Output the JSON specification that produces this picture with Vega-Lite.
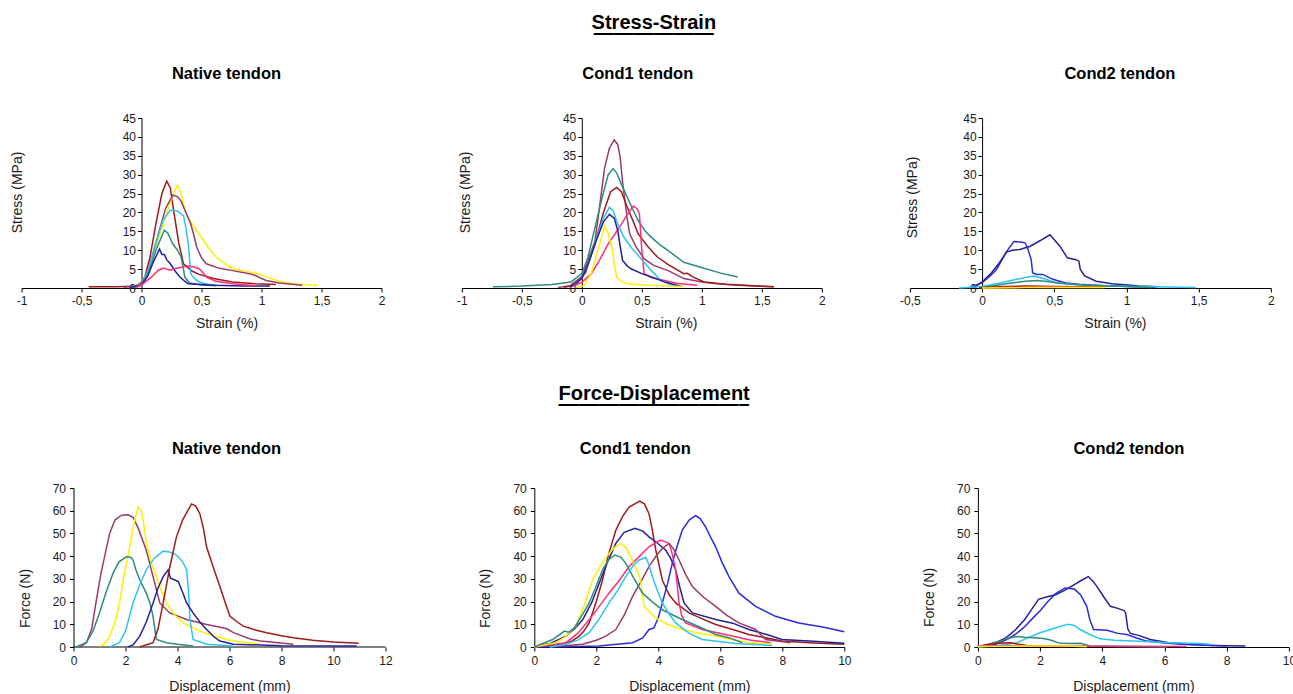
{
"$schema":"https://vega.github.io/schema/vega-lite/v6.json",
"padding":{"left":10.5,"top":12,"right":0,"bottom":0},
"background":"white",
"columns":1,
"spacing":54,
"config":{
"view":{"stroke":null},
"font":"Liberation Sans",
"title":{"font":"Liberation Sans","fontSize":16.5,"fontWeight":"bold","color":"#000","anchor":"middle"},
"axis":{"grid":false,"domainColor":"#000","tickColor":"#000","labelColor":"#1a1a1a","titleColor":"#1a1a1a","labelFont":"Liberation Sans","titleFont":"Liberation Sans","labelFontSize":12,"titleFontSize":14,"titleFontWeight":"normal","tickSize":4,"domainWidth":1,"tickWidth":1,"labelOverlap":false,"labelFlush":false},
"line":{"strokeWidth":1.5,"clip":true}
},
"datasets":{"d":[
{"g":"SN","k":"R","x":-0.44,"y":0.3},{"g":"SN","k":"R","x":-0.2,"y":0.35},{"g":"SN","k":"R","x":-0.05,"y":0.5},{"g":"SN","k":"R","x":0,"y":1.5},{"g":"SN","k":"R","x":0.02,"y":2},{"g":"SN","k":"R","x":0.07,"y":8},{"g":"SN","k":"R","x":0.12,"y":17},{"g":"SN","k":"R","x":0.17,"y":25},{"g":"SN","k":"R","x":0.21,"y":28.3},{"g":"SN","k":"R","x":0.24,"y":26.5},{"g":"SN","k":"R","x":0.27,"y":20},{"g":"SN","k":"R","x":0.31,"y":12},{"g":"SN","k":"R","x":0.35,"y":6.4},{"g":"SN","k":"R","x":0.42,"y":4.5},{"g":"SN","k":"R","x":0.48,"y":3.6},{"g":"SN","k":"R","x":0.6,"y":2.5},{"g":"SN","k":"R","x":0.76,"y":1.6},{"g":"SN","k":"R","x":0.95,"y":1.1},{"g":"SN","k":"R","x":1.12,"y":0.9},
{"g":"SN","k":"Y","x":-0.1,"y":0.2},{"g":"SN","k":"Y","x":-0.02,"y":0.8},{"g":"SN","k":"Y","x":0.05,"y":4},{"g":"SN","k":"Y","x":0.12,"y":11},{"g":"SN","k":"Y","x":0.2,"y":19},{"g":"SN","k":"Y","x":0.26,"y":24.5},{"g":"SN","k":"Y","x":0.3,"y":27.2},{"g":"SN","k":"Y","x":0.33,"y":25},{"g":"SN","k":"Y","x":0.37,"y":19.6},{"g":"SN","k":"Y","x":0.42,"y":17},{"g":"SN","k":"Y","x":0.48,"y":14.3},{"g":"SN","k":"Y","x":0.55,"y":11},{"g":"SN","k":"Y","x":0.62,"y":8.2},{"g":"SN","k":"Y","x":0.7,"y":6.3},{"g":"SN","k":"Y","x":0.76,"y":5.1},{"g":"SN","k":"Y","x":0.9,"y":4.2},{"g":"SN","k":"Y","x":0.98,"y":3.8},{"g":"SN","k":"Y","x":1.05,"y":2.8},{"g":"SN","k":"Y","x":1.17,"y":1.6},{"g":"SN","k":"Y","x":1.3,"y":1},{"g":"SN","k":"Y","x":1.47,"y":0.7},
{"g":"SN","k":"M","x":-0.15,"y":0.2},{"g":"SN","k":"M","x":-0.02,"y":0.6},{"g":"SN","k":"M","x":0.05,"y":4},{"g":"SN","k":"M","x":0.12,"y":12},{"g":"SN","k":"M","x":0.2,"y":21},{"g":"SN","k":"M","x":0.26,"y":24.6},{"g":"SN","k":"M","x":0.3,"y":24.2},{"g":"SN","k":"M","x":0.33,"y":23},{"g":"SN","k":"M","x":0.37,"y":20},{"g":"SN","k":"M","x":0.41,"y":17},{"g":"SN","k":"M","x":0.44,"y":13.5},{"g":"SN","k":"M","x":0.46,"y":10.8},{"g":"SN","k":"M","x":0.5,"y":8},{"g":"SN","k":"M","x":0.54,"y":6.4},{"g":"SN","k":"M","x":0.65,"y":5.2},{"g":"SN","k":"M","x":0.76,"y":4.6},{"g":"SN","k":"M","x":0.9,"y":3.8},{"g":"SN","k":"M","x":0.95,"y":3.3},{"g":"SN","k":"M","x":1,"y":2.5},{"g":"SN","k":"M","x":1.04,"y":2},{"g":"SN","k":"M","x":1.15,"y":1.3},{"g":"SN","k":"M","x":1.34,"y":0.7},
{"g":"SN","k":"C","x":-0.1,"y":0.1},{"g":"SN","k":"C","x":0,"y":1},{"g":"SN","k":"C","x":0.06,"y":5},{"g":"SN","k":"C","x":0.12,"y":12},{"g":"SN","k":"C","x":0.18,"y":18},{"g":"SN","k":"C","x":0.24,"y":20.6},{"g":"SN","k":"C","x":0.3,"y":20.4},{"g":"SN","k":"C","x":0.35,"y":19.1},{"g":"SN","k":"C","x":0.37,"y":16},{"g":"SN","k":"C","x":0.39,"y":11.7},{"g":"SN","k":"C","x":0.41,"y":3.8},{"g":"SN","k":"C","x":0.44,"y":2.5},{"g":"SN","k":"C","x":0.48,"y":1.6},{"g":"SN","k":"C","x":0.55,"y":1},{"g":"SN","k":"C","x":0.63,"y":0.7},
{"g":"SN","k":"T","x":-0.1,"y":0.1},{"g":"SN","k":"T","x":0,"y":0.8},{"g":"SN","k":"T","x":0.06,"y":4},{"g":"SN","k":"T","x":0.12,"y":10},{"g":"SN","k":"T","x":0.19,"y":15.3},{"g":"SN","k":"T","x":0.22,"y":14.5},{"g":"SN","k":"T","x":0.26,"y":11.7},{"g":"SN","k":"T","x":0.3,"y":10},{"g":"SN","k":"T","x":0.33,"y":8.2},{"g":"SN","k":"T","x":0.35,"y":5},{"g":"SN","k":"T","x":0.36,"y":2.9},{"g":"SN","k":"T","x":0.4,"y":1.3},{"g":"SN","k":"T","x":0.5,"y":0.8},{"g":"SN","k":"T","x":0.62,"y":0.6},
{"g":"SN","k":"B","x":-0.1,"y":0.1},{"g":"SN","k":"B","x":0,"y":0.8},{"g":"SN","k":"B","x":0.05,"y":3},{"g":"SN","k":"B","x":0.1,"y":7},{"g":"SN","k":"B","x":0.15,"y":10.3},{"g":"SN","k":"B","x":0.17,"y":8.9},{"g":"SN","k":"B","x":0.19,"y":8.9},{"g":"SN","k":"B","x":0.21,"y":7.5},{"g":"SN","k":"B","x":0.24,"y":6.4},{"g":"SN","k":"B","x":0.28,"y":4.5},{"g":"SN","k":"B","x":0.32,"y":2.9},{"g":"SN","k":"B","x":0.36,"y":1.8},{"g":"SN","k":"B","x":0.39,"y":1.1},{"g":"SN","k":"B","x":0.6,"y":0.7},{"g":"SN","k":"B","x":0.85,"y":0.5},{"g":"SN","k":"B","x":1.07,"y":0.5},
{"g":"SN","k":"P","x":-0.05,"y":0.1},{"g":"SN","k":"P","x":0,"y":0.8},{"g":"SN","k":"P","x":0.08,"y":2.8},{"g":"SN","k":"P","x":0.14,"y":4.7},{"g":"SN","k":"P","x":0.18,"y":5.3},{"g":"SN","k":"P","x":0.21,"y":5},{"g":"SN","k":"P","x":0.24,"y":4.7},{"g":"SN","k":"P","x":0.3,"y":5.3},{"g":"SN","k":"P","x":0.38,"y":5.8},{"g":"SN","k":"P","x":0.43,"y":5.6},{"g":"SN","k":"P","x":0.48,"y":5.1},{"g":"SN","k":"P","x":0.52,"y":3.8},{"g":"SN","k":"P","x":0.54,"y":2.9},{"g":"SN","k":"P","x":0.62,"y":1.8},{"g":"SN","k":"P","x":0.76,"y":1.1},{"g":"SN","k":"P","x":0.95,"y":0.6},

{"g":"S1","k":"M","x":-0.2,"y":0.1},{"g":"S1","k":"M","x":-0.1,"y":0.6},{"g":"S1","k":"M","x":0,"y":3},{"g":"S1","k":"M","x":0.05,"y":7},{"g":"S1","k":"M","x":0.11,"y":12.5},{"g":"S1","k":"M","x":0.15,"y":22},{"g":"S1","k":"M","x":0.19,"y":31.8},{"g":"S1","k":"M","x":0.23,"y":37},{"g":"S1","k":"M","x":0.27,"y":39.2},{"g":"S1","k":"M","x":0.3,"y":38},{"g":"S1","k":"M","x":0.32,"y":34.5},{"g":"S1","k":"M","x":0.34,"y":28},{"g":"S1","k":"M","x":0.36,"y":23},{"g":"S1","k":"M","x":0.38,"y":18},{"g":"S1","k":"M","x":0.4,"y":14.3},{"g":"S1","k":"M","x":0.45,"y":11},{"g":"S1","k":"M","x":0.52,"y":7.7},{"g":"S1","k":"M","x":0.6,"y":6},{"g":"S1","k":"M","x":0.72,"y":4.6},{"g":"S1","k":"M","x":0.85,"y":2.5},{"g":"S1","k":"M","x":1,"y":1.6},{"g":"S1","k":"M","x":1.13,"y":1.1},{"g":"S1","k":"M","x":1.3,"y":0.7},{"g":"S1","k":"M","x":1.6,"y":0.3},
{"g":"S1","k":"T","x":-0.74,"y":0.3},{"g":"S1","k":"T","x":-0.5,"y":0.5},{"g":"S1","k":"T","x":-0.25,"y":0.9},{"g":"S1","k":"T","x":-0.09,"y":1.6},{"g":"S1","k":"T","x":0,"y":3.8},{"g":"S1","k":"T","x":0.05,"y":8},{"g":"S1","k":"T","x":0.11,"y":16},{"g":"S1","k":"T","x":0.17,"y":24},{"g":"S1","k":"T","x":0.22,"y":30},{"g":"S1","k":"T","x":0.26,"y":31.6},{"g":"S1","k":"T","x":0.29,"y":30.5},{"g":"S1","k":"T","x":0.33,"y":27.5},{"g":"S1","k":"T","x":0.4,"y":22.5},{"g":"S1","k":"T","x":0.47,"y":17.8},{"g":"S1","k":"T","x":0.53,"y":15},{"g":"S1","k":"T","x":0.58,"y":13.4},{"g":"S1","k":"T","x":0.65,"y":11.5},{"g":"S1","k":"T","x":0.72,"y":9.9},{"g":"S1","k":"T","x":0.85,"y":6.8},{"g":"S1","k":"T","x":0.99,"y":5.5},{"g":"S1","k":"T","x":1.15,"y":4},{"g":"S1","k":"T","x":1.3,"y":2.9},
{"g":"S1","k":"R","x":-0.15,"y":0.2},{"g":"S1","k":"R","x":-0.05,"y":0.8},{"g":"S1","k":"R","x":0.03,"y":4},{"g":"S1","k":"R","x":0.11,"y":11.7},{"g":"S1","k":"R","x":0.18,"y":20},{"g":"S1","k":"R","x":0.24,"y":25.5},{"g":"S1","k":"R","x":0.29,"y":26.6},{"g":"S1","k":"R","x":0.33,"y":25.5},{"g":"S1","k":"R","x":0.38,"y":21.3},{"g":"S1","k":"R","x":0.43,"y":17.5},{"g":"S1","k":"R","x":0.47,"y":14.3},{"g":"S1","k":"R","x":0.55,"y":11},{"g":"S1","k":"R","x":0.63,"y":8.2},{"g":"S1","k":"R","x":0.72,"y":6.2},{"g":"S1","k":"R","x":0.85,"y":3.8},{"g":"S1","k":"R","x":0.88,"y":3.9},{"g":"S1","k":"R","x":0.92,"y":3},{"g":"S1","k":"R","x":1.02,"y":1.6},{"g":"S1","k":"R","x":1.2,"y":1},{"g":"S1","k":"R","x":1.6,"y":0.3},
{"g":"S1","k":"P","x":-0.1,"y":0.2},{"g":"S1","k":"P","x":0,"y":1.5},{"g":"S1","k":"P","x":0.08,"y":3.8},{"g":"S1","k":"P","x":0.15,"y":7.5},{"g":"S1","k":"P","x":0.22,"y":11.7},{"g":"S1","k":"P","x":0.28,"y":14.5},{"g":"S1","k":"P","x":0.33,"y":16.9},{"g":"S1","k":"P","x":0.38,"y":19.5},{"g":"S1","k":"P","x":0.43,"y":21.7},{"g":"S1","k":"P","x":0.46,"y":21},{"g":"S1","k":"P","x":0.48,"y":19.6},{"g":"S1","k":"P","x":0.49,"y":15},{"g":"S1","k":"P","x":0.5,"y":9.9},{"g":"S1","k":"P","x":0.52,"y":3.8},{"g":"S1","k":"P","x":0.58,"y":2.8},{"g":"S1","k":"P","x":0.69,"y":2},{"g":"S1","k":"P","x":0.8,"y":1.2},{"g":"S1","k":"P","x":0.96,"y":0.7},
{"g":"S1","k":"C","x":-0.1,"y":0.2},{"g":"S1","k":"C","x":0,"y":2.5},{"g":"S1","k":"C","x":0.06,"y":7},{"g":"S1","k":"C","x":0.12,"y":13},{"g":"S1","k":"C","x":0.18,"y":18.5},{"g":"S1","k":"C","x":0.23,"y":21.4},{"g":"S1","k":"C","x":0.26,"y":20.5},{"g":"S1","k":"C","x":0.3,"y":16.9},{"g":"S1","k":"C","x":0.35,"y":13.5},{"g":"S1","k":"C","x":0.41,"y":10.8},{"g":"S1","k":"C","x":0.5,"y":7.5},{"g":"S1","k":"C","x":0.58,"y":4.6},{"g":"S1","k":"C","x":0.66,"y":2},{"g":"S1","k":"C","x":0.75,"y":0.8},{"g":"S1","k":"C","x":0.83,"y":0.4},
{"g":"S1","k":"B","x":-0.1,"y":0.2},{"g":"S1","k":"B","x":0,"y":2.5},{"g":"S1","k":"B","x":0.06,"y":7},{"g":"S1","k":"B","x":0.12,"y":12.5},{"g":"S1","k":"B","x":0.18,"y":17.5},{"g":"S1","k":"B","x":0.23,"y":19.5},{"g":"S1","k":"B","x":0.27,"y":18.5},{"g":"S1","k":"B","x":0.3,"y":15.2},{"g":"S1","k":"B","x":0.32,"y":11},{"g":"S1","k":"B","x":0.34,"y":7.3},{"g":"S1","k":"B","x":0.38,"y":5.8},{"g":"S1","k":"B","x":0.41,"y":5.1},{"g":"S1","k":"B","x":0.5,"y":3.8},{"g":"S1","k":"B","x":0.58,"y":2.9},{"g":"S1","k":"B","x":0.7,"y":1.5},{"g":"S1","k":"B","x":0.83,"y":0.4},
{"g":"S1","k":"Y","x":-0.05,"y":0.1},{"g":"S1","k":"Y","x":0.02,"y":0.7},{"g":"S1","k":"Y","x":0.08,"y":4},{"g":"S1","k":"Y","x":0.13,"y":9.5},{"g":"S1","k":"Y","x":0.19,"y":16.4},{"g":"S1","k":"Y","x":0.22,"y":14.5},{"g":"S1","k":"Y","x":0.25,"y":10.8},{"g":"S1","k":"Y","x":0.27,"y":6.5},{"g":"S1","k":"Y","x":0.29,"y":2.9},{"g":"S1","k":"Y","x":0.33,"y":1.8},{"g":"S1","k":"Y","x":0.38,"y":1.1},{"g":"S1","k":"Y","x":0.55,"y":0.7},{"g":"S1","k":"Y","x":0.85,"y":0.4},

{"g":"S2","k":"L","x":-0.09,"y":0},{"g":"S2","k":"L","x":0,"y":1.4},{"g":"S2","k":"L","x":0.05,"y":3},{"g":"S2","k":"L","x":0.1,"y":4.9},{"g":"S2","k":"L","x":0.17,"y":9.7},{"g":"S2","k":"L","x":0.22,"y":12.3},{"g":"S2","k":"L","x":0.27,"y":12.2},{"g":"S2","k":"L","x":0.3,"y":11.9},{"g":"S2","k":"L","x":0.32,"y":10},{"g":"S2","k":"L","x":0.34,"y":7.5},{"g":"S2","k":"L","x":0.35,"y":4},{"g":"S2","k":"L","x":0.38,"y":3.6},{"g":"S2","k":"L","x":0.42,"y":3.6},{"g":"S2","k":"L","x":0.49,"y":2.3},{"g":"S2","k":"L","x":0.58,"y":1.3},{"g":"S2","k":"L","x":0.67,"y":1},{"g":"S2","k":"L","x":0.85,"y":0.6},{"g":"S2","k":"L","x":1.02,"y":0.4},{"g":"S2","k":"L","x":1.2,"y":0.2},
{"g":"S2","k":"B","x":-0.06,"y":0},{"g":"S2","k":"B","x":0,"y":1.6},{"g":"S2","k":"B","x":0.06,"y":3.8},{"g":"S2","k":"B","x":0.12,"y":6.7},{"g":"S2","k":"B","x":0.17,"y":9.5},{"g":"S2","k":"B","x":0.21,"y":10},{"g":"S2","k":"B","x":0.26,"y":10.2},{"g":"S2","k":"B","x":0.33,"y":11},{"g":"S2","k":"B","x":0.4,"y":12.5},{"g":"S2","k":"B","x":0.47,"y":14.1},{"g":"S2","k":"B","x":0.5,"y":12.8},{"g":"S2","k":"B","x":0.54,"y":11},{"g":"S2","k":"B","x":0.59,"y":8},{"g":"S2","k":"B","x":0.65,"y":7.5},{"g":"S2","k":"B","x":0.67,"y":7.1},{"g":"S2","k":"B","x":0.68,"y":4.9},{"g":"S2","k":"B","x":0.71,"y":3.2},{"g":"S2","k":"B","x":0.79,"y":1.8},{"g":"S2","k":"B","x":0.9,"y":1.1},{"g":"S2","k":"B","x":1.09,"y":0.5},{"g":"S2","k":"B","x":1.22,"y":0.3},
{"g":"S2","k":"C","x":-0.16,"y":0},{"g":"S2","k":"C","x":0,"y":0.4},{"g":"S2","k":"C","x":0.1,"y":1.1},{"g":"S2","k":"C","x":0.2,"y":2},{"g":"S2","k":"C","x":0.3,"y":2.8},{"g":"S2","k":"C","x":0.36,"y":3.2},{"g":"S2","k":"C","x":0.42,"y":2.6},{"g":"S2","k":"C","x":0.51,"y":1.4},{"g":"S2","k":"C","x":0.7,"y":0.7},{"g":"S2","k":"C","x":0.9,"y":0.5},{"g":"S2","k":"C","x":1.2,"y":0.3},{"g":"S2","k":"C","x":1.48,"y":0.1},
{"g":"S2","k":"T","x":-0.02,"y":0.1},{"g":"S2","k":"T","x":0.1,"y":0.7},{"g":"S2","k":"T","x":0.2,"y":1.3},{"g":"S2","k":"T","x":0.3,"y":1.8},{"g":"S2","k":"T","x":0.38,"y":2},{"g":"S2","k":"T","x":0.45,"y":1.7},{"g":"S2","k":"T","x":0.56,"y":1.2},{"g":"S2","k":"T","x":0.7,"y":0.8},{"g":"S2","k":"T","x":0.9,"y":0.5},{"g":"S2","k":"T","x":1.18,"y":0.1},
{"g":"S2","k":"R","x":-0.02,"y":0},{"g":"S2","k":"R","x":0.1,"y":0.3},{"g":"S2","k":"R","x":0.3,"y":0.5},{"g":"S2","k":"R","x":0.5,"y":0.4},{"g":"S2","k":"R","x":0.7,"y":0.3},{"g":"S2","k":"R","x":0.85,"y":0.2},
{"g":"S2","k":"P","x":0,"y":0},{"g":"S2","k":"P","x":0.2,"y":0.2},{"g":"S2","k":"P","x":0.5,"y":0.3},{"g":"S2","k":"P","x":0.8,"y":0.2},
{"g":"S2","k":"Y","x":0,"y":0},{"g":"S2","k":"Y","x":0.3,"y":0.1},{"g":"S2","k":"Y","x":0.6,"y":0.1},{"g":"S2","k":"Y","x":0.85,"y":0.1},

{"g":"FN","k":"M","x":0.23,"y":0},{"g":"FN","k":"M","x":0.3,"y":0.3},{"g":"FN","k":"M","x":0.5,"y":2},{"g":"FN","k":"M","x":0.7,"y":8},{"g":"FN","k":"M","x":0.87,"y":20},{"g":"FN","k":"M","x":1.05,"y":32},{"g":"FN","k":"M","x":1.2,"y":40},{"g":"FN","k":"M","x":1.39,"y":50},{"g":"FN","k":"M","x":1.6,"y":56},{"g":"FN","k":"M","x":1.85,"y":58},{"g":"FN","k":"M","x":2.1,"y":58.2},{"g":"FN","k":"M","x":2.3,"y":57},{"g":"FN","k":"M","x":2.5,"y":52},{"g":"FN","k":"M","x":2.8,"y":42.6},{"g":"FN","k":"M","x":3.06,"y":31},{"g":"FN","k":"M","x":3.32,"y":19.4},{"g":"FN","k":"M","x":3.7,"y":15},{"g":"FN","k":"M","x":4.35,"y":12.1},{"g":"FN","k":"M","x":5.12,"y":9.9},{"g":"FN","k":"M","x":5.6,"y":8.8},{"g":"FN","k":"M","x":5.9,"y":8},{"g":"FN","k":"M","x":6.15,"y":6.3},{"g":"FN","k":"M","x":6.8,"y":3.5},{"g":"FN","k":"M","x":7.2,"y":2.6},{"g":"FN","k":"M","x":8.46,"y":1.2},
{"g":"FN","k":"Y","x":1,"y":0.3},{"g":"FN","k":"Y","x":1.2,"y":1.5},{"g":"FN","k":"Y","x":1.39,"y":4.8},{"g":"FN","k":"Y","x":1.6,"y":11},{"g":"FN","k":"Y","x":1.77,"y":19.4},{"g":"FN","k":"Y","x":1.95,"y":32},{"g":"FN","k":"Y","x":2.16,"y":44},{"g":"FN","k":"Y","x":2.3,"y":53},{"g":"FN","k":"Y","x":2.48,"y":61.6},{"g":"FN","k":"Y","x":2.6,"y":60},{"g":"FN","k":"Y","x":2.68,"y":55.7},{"g":"FN","k":"Y","x":2.8,"y":45.6},{"g":"FN","k":"Y","x":3,"y":37},{"g":"FN","k":"Y","x":3.19,"y":31},{"g":"FN","k":"Y","x":3.4,"y":24},{"g":"FN","k":"Y","x":3.58,"y":19.4},{"g":"FN","k":"Y","x":3.9,"y":14},{"g":"FN","k":"Y","x":4.22,"y":10.6},{"g":"FN","k":"Y","x":4.86,"y":7},{"g":"FN","k":"Y","x":5.5,"y":4.5},{"g":"FN","k":"Y","x":6.15,"y":2.6},{"g":"FN","k":"Y","x":7.18,"y":1.2},
{"g":"FN","k":"T","x":0.1,"y":0},{"g":"FN","k":"T","x":0.49,"y":1.9},{"g":"FN","k":"T","x":0.75,"y":7},{"g":"FN","k":"T","x":1,"y":15},{"g":"FN","k":"T","x":1.25,"y":24},{"g":"FN","k":"T","x":1.52,"y":32.5},{"g":"FN","k":"T","x":1.75,"y":37.5},{"g":"FN","k":"T","x":2.03,"y":39.7},{"g":"FN","k":"T","x":2.2,"y":39.5},{"g":"FN","k":"T","x":2.29,"y":38.3},{"g":"FN","k":"T","x":2.4,"y":34},{"g":"FN","k":"T","x":2.55,"y":29.5},{"g":"FN","k":"T","x":2.8,"y":23.7},{"g":"FN","k":"T","x":2.95,"y":19},{"g":"FN","k":"T","x":3.06,"y":13.5},{"g":"FN","k":"T","x":3.15,"y":6},{"g":"FN","k":"T","x":3.19,"y":3.3},{"g":"FN","k":"T","x":3.58,"y":1.9},{"g":"FN","k":"T","x":4,"y":1.2},{"g":"FN","k":"T","x":4.6,"y":0.4},
{"g":"FN","k":"C","x":1.39,"y":0},{"g":"FN","k":"C","x":1.77,"y":1.9},{"g":"FN","k":"C","x":2,"y":7},{"g":"FN","k":"C","x":2.29,"y":19.4},{"g":"FN","k":"C","x":2.55,"y":27.5},{"g":"FN","k":"C","x":2.8,"y":34},{"g":"FN","k":"C","x":3.1,"y":39},{"g":"FN","k":"C","x":3.45,"y":42.2},{"g":"FN","k":"C","x":3.7,"y":41.8},{"g":"FN","k":"C","x":3.96,"y":40.5},{"g":"FN","k":"C","x":4.2,"y":37.5},{"g":"FN","k":"C","x":4.35,"y":34},{"g":"FN","k":"C","x":4.42,"y":25},{"g":"FN","k":"C","x":4.48,"y":12},{"g":"FN","k":"C","x":4.6,"y":3.3},{"g":"FN","k":"C","x":5.12,"y":1.2},{"g":"FN","k":"C","x":6.15,"y":0.4},
{"g":"FN","k":"B","x":2.1,"y":0},{"g":"FN","k":"B","x":2.3,"y":1},{"g":"FN","k":"B","x":2.55,"y":4.8},{"g":"FN","k":"B","x":2.8,"y":11},{"g":"FN","k":"B","x":3.06,"y":19.4},{"g":"FN","k":"B","x":3.25,"y":26},{"g":"FN","k":"B","x":3.45,"y":31},{"g":"FN","k":"B","x":3.64,"y":33.9},{"g":"FN","k":"B","x":3.73,"y":30.3},{"g":"FN","k":"B","x":3.9,"y":29.5},{"g":"FN","k":"B","x":4.03,"y":28.8},{"g":"FN","k":"B","x":4.2,"y":24},{"g":"FN","k":"B","x":4.35,"y":19.4},{"g":"FN","k":"B","x":4.6,"y":15},{"g":"FN","k":"B","x":4.86,"y":11},{"g":"FN","k":"B","x":5.12,"y":7.7},{"g":"FN","k":"B","x":5.4,"y":4.5},{"g":"FN","k":"B","x":5.63,"y":2.6},{"g":"FN","k":"B","x":6.15,"y":1.2},{"g":"FN","k":"B","x":8,"y":0.6},{"g":"FN","k":"B","x":10.9,"y":0.4},
{"g":"FN","k":"R","x":2.55,"y":0},{"g":"FN","k":"R","x":3.06,"y":1.9},{"g":"FN","k":"R","x":3.25,"y":8},{"g":"FN","k":"R","x":3.45,"y":19.4},{"g":"FN","k":"R","x":3.7,"y":35},{"g":"FN","k":"R","x":3.96,"y":48.5},{"g":"FN","k":"R","x":4.2,"y":56},{"g":"FN","k":"R","x":4.54,"y":63},{"g":"FN","k":"R","x":4.7,"y":62},{"g":"FN","k":"R","x":4.86,"y":58.7},{"g":"FN","k":"R","x":5,"y":52},{"g":"FN","k":"R","x":5.12,"y":44},{"g":"FN","k":"R","x":5.35,"y":36},{"g":"FN","k":"R","x":5.63,"y":26.6},{"g":"FN","k":"R","x":5.85,"y":19},{"g":"FN","k":"R","x":6.02,"y":13.5},{"g":"FN","k":"R","x":6.3,"y":11},{"g":"FN","k":"R","x":6.53,"y":9.2},{"g":"FN","k":"R","x":7,"y":7.5},{"g":"FN","k":"R","x":7.43,"y":6.3},{"g":"FN","k":"R","x":8,"y":5},{"g":"FN","k":"R","x":8.46,"y":4.1},{"g":"FN","k":"R","x":9.2,"y":3},{"g":"FN","k":"R","x":10,"y":2.2},{"g":"FN","k":"R","x":10.97,"y":1.6},

{"g":"F1","k":"R","x":0,"y":0},{"g":"F1","k":"R","x":0.91,"y":1.2},{"g":"F1","k":"R","x":1.2,"y":2.5},{"g":"F1","k":"R","x":1.45,"y":4.8},{"g":"F1","k":"R","x":1.6,"y":7},{"g":"F1","k":"R","x":1.77,"y":10.6},{"g":"F1","k":"R","x":2,"y":20},{"g":"F1","k":"R","x":2.2,"y":29.5},{"g":"F1","k":"R","x":2.4,"y":41},{"g":"F1","k":"R","x":2.63,"y":51.4},{"g":"F1","k":"R","x":2.85,"y":57.5},{"g":"F1","k":"R","x":3.06,"y":61.6},{"g":"F1","k":"R","x":3.4,"y":64.2},{"g":"F1","k":"R","x":3.55,"y":63},{"g":"F1","k":"R","x":3.7,"y":58.7},{"g":"F1","k":"R","x":3.8,"y":52},{"g":"F1","k":"R","x":3.92,"y":42.6},{"g":"F1","k":"R","x":4.13,"y":29.5},{"g":"F1","k":"R","x":4.35,"y":23},{"g":"F1","k":"R","x":4.56,"y":19.4},{"g":"F1","k":"R","x":4.99,"y":15},{"g":"F1","k":"R","x":5.4,"y":12.5},{"g":"F1","k":"R","x":5.85,"y":9.9},{"g":"F1","k":"R","x":6.4,"y":7.7},{"g":"F1","k":"R","x":6.92,"y":5.5},{"g":"F1","k":"R","x":7.99,"y":2.6},{"g":"F1","k":"R","x":9,"y":1.8},{"g":"F1","k":"R","x":10,"y":1.2},
{"g":"F1","k":"B","x":0,"y":0},{"g":"F1","k":"B","x":0.5,"y":1.5},{"g":"F1","k":"B","x":1.02,"y":4.8},{"g":"F1","k":"B","x":1.3,"y":8},{"g":"F1","k":"B","x":1.56,"y":12},{"g":"F1","k":"B","x":1.85,"y":19.5},{"g":"F1","k":"B","x":2.09,"y":28},{"g":"F1","k":"B","x":2.35,"y":37},{"g":"F1","k":"B","x":2.63,"y":45.6},{"g":"F1","k":"B","x":2.9,"y":50.5},{"g":"F1","k":"B","x":3.25,"y":52.3},{"g":"F1","k":"B","x":3.5,"y":51},{"g":"F1","k":"B","x":3.7,"y":48.5},{"g":"F1","k":"B","x":3.95,"y":46},{"g":"F1","k":"B","x":4.24,"y":42.6},{"g":"F1","k":"B","x":4.4,"y":39},{"g":"F1","k":"B","x":4.56,"y":33.9},{"g":"F1","k":"B","x":4.7,"y":26},{"g":"F1","k":"B","x":4.83,"y":19.4},{"g":"F1","k":"B","x":5.1,"y":15},{"g":"F1","k":"B","x":5.85,"y":12.1},{"g":"F1","k":"B","x":6.4,"y":10.5},{"g":"F1","k":"B","x":6.92,"y":7.7},{"g":"F1","k":"B","x":7.5,"y":5.5},{"g":"F1","k":"B","x":7.99,"y":3.3},{"g":"F1","k":"B","x":9,"y":2.5},{"g":"F1","k":"B","x":10,"y":1.6},
{"g":"F1","k":"L","x":0,"y":0},{"g":"F1","k":"L","x":1,"y":0.1},{"g":"F1","k":"L","x":2.09,"y":0.4},{"g":"F1","k":"L","x":3.17,"y":1.9},{"g":"F1","k":"L","x":3.5,"y":4},{"g":"F1","k":"L","x":3.7,"y":7.7},{"g":"F1","k":"L","x":3.86,"y":8.4},{"g":"F1","k":"L","x":4,"y":13},{"g":"F1","k":"L","x":4.13,"y":19.4},{"g":"F1","k":"L","x":4.3,"y":28},{"g":"F1","k":"L","x":4.45,"y":36.8},{"g":"F1","k":"L","x":4.6,"y":44},{"g":"F1","k":"L","x":4.77,"y":51.4},{"g":"F1","k":"L","x":5,"y":56},{"g":"F1","k":"L","x":5.2,"y":57.8},{"g":"F1","k":"L","x":5.35,"y":56.5},{"g":"F1","k":"L","x":5.53,"y":52.8},{"g":"F1","k":"L","x":5.7,"y":48},{"g":"F1","k":"L","x":5.85,"y":44.1},{"g":"F1","k":"L","x":6.05,"y":37.5},{"g":"F1","k":"L","x":6.28,"y":31},{"g":"F1","k":"L","x":6.6,"y":23.7},{"g":"F1","k":"L","x":7.14,"y":17.9},{"g":"F1","k":"L","x":7.78,"y":13.5},{"g":"F1","k":"L","x":8.53,"y":10.6},{"g":"F1","k":"L","x":9.3,"y":8.8},{"g":"F1","k":"L","x":10,"y":6.7},
{"g":"F1","k":"P","x":0,"y":0},{"g":"F1","k":"P","x":1.02,"y":1.9},{"g":"F1","k":"P","x":1.4,"y":6},{"g":"F1","k":"P","x":1.77,"y":12},{"g":"F1","k":"P","x":2.1,"y":18},{"g":"F1","k":"P","x":2.41,"y":23.7},{"g":"F1","k":"P","x":2.75,"y":29.5},{"g":"F1","k":"P","x":3.06,"y":35.4},{"g":"F1","k":"P","x":3.4,"y":40},{"g":"F1","k":"P","x":3.7,"y":44.1},{"g":"F1","k":"P","x":4.05,"y":47},{"g":"F1","k":"P","x":4.2,"y":46.5},{"g":"F1","k":"P","x":4.35,"y":45.6},{"g":"F1","k":"P","x":4.45,"y":41},{"g":"F1","k":"P","x":4.56,"y":33.9},{"g":"F1","k":"P","x":4.62,"y":26},{"g":"F1","k":"P","x":4.67,"y":19.4},{"g":"F1","k":"P","x":4.75,"y":14},{"g":"F1","k":"P","x":4.88,"y":10.6},{"g":"F1","k":"P","x":5.42,"y":7.7},{"g":"F1","k":"P","x":6.38,"y":4.8},{"g":"F1","k":"P","x":7,"y":3},{"g":"F1","k":"P","x":7.62,"y":1.9},
{"g":"F1","k":"M","x":0.5,"y":0},{"g":"F1","k":"M","x":1.56,"y":1.2},{"g":"F1","k":"M","x":2,"y":3},{"g":"F1","k":"M","x":2.31,"y":4.8},{"g":"F1","k":"M","x":2.63,"y":7.7},{"g":"F1","k":"M","x":2.9,"y":14},{"g":"F1","k":"M","x":3.17,"y":22.3},{"g":"F1","k":"M","x":3.45,"y":29},{"g":"F1","k":"M","x":3.7,"y":35.4},{"g":"F1","k":"M","x":3.95,"y":40.5},{"g":"F1","k":"M","x":4.13,"y":43.4},{"g":"F1","k":"M","x":4.35,"y":45.6},{"g":"F1","k":"M","x":4.5,"y":43},{"g":"F1","k":"M","x":4.67,"y":38.3},{"g":"F1","k":"M","x":4.88,"y":32},{"g":"F1","k":"M","x":5.1,"y":26.6},{"g":"F1","k":"M","x":5.45,"y":22},{"g":"F1","k":"M","x":5.85,"y":17.9},{"g":"F1","k":"M","x":6.2,"y":14},{"g":"F1","k":"M","x":6.6,"y":10.6},{"g":"F1","k":"M","x":7.14,"y":7.7},{"g":"F1","k":"M","x":7.46,"y":3.3},{"g":"F1","k":"M","x":8.26,"y":1.9},
{"g":"F1","k":"Y","x":0,"y":0},{"g":"F1","k":"Y","x":0.7,"y":1.9},{"g":"F1","k":"Y","x":1,"y":4.5},{"g":"F1","k":"Y","x":1.34,"y":9.2},{"g":"F1","k":"Y","x":1.6,"y":18},{"g":"F1","k":"Y","x":1.88,"y":29.5},{"g":"F1","k":"Y","x":2.15,"y":36},{"g":"F1","k":"Y","x":2.41,"y":41.2},{"g":"F1","k":"Y","x":2.6,"y":44},{"g":"F1","k":"Y","x":2.8,"y":45.6},{"g":"F1","k":"Y","x":2.95,"y":44},{"g":"F1","k":"Y","x":3.11,"y":39.7},{"g":"F1","k":"Y","x":3.3,"y":34},{"g":"F1","k":"Y","x":3.43,"y":29.5},{"g":"F1","k":"Y","x":3.5,"y":22},{"g":"F1","k":"Y","x":3.54,"y":17.9},{"g":"F1","k":"Y","x":3.92,"y":12.8},{"g":"F1","k":"Y","x":4.3,"y":10},{"g":"F1","k":"Y","x":4.77,"y":7.7},{"g":"F1","k":"Y","x":5.3,"y":6.2},{"g":"F1","k":"Y","x":5.85,"y":4.8},{"g":"F1","k":"Y","x":6.4,"y":3.2},{"g":"F1","k":"Y","x":6.92,"y":1.9},{"g":"F1","k":"Y","x":7.67,"y":1.2},
{"g":"F1","k":"T","x":0,"y":0},{"g":"F1","k":"T","x":0.59,"y":3.3},{"g":"F1","k":"T","x":0.97,"y":7},{"g":"F1","k":"T","x":1.1,"y":6.5},{"g":"F1","k":"T","x":1.29,"y":8.4},{"g":"F1","k":"T","x":1.5,"y":13},{"g":"F1","k":"T","x":1.77,"y":19.4},{"g":"F1","k":"T","x":2,"y":27},{"g":"F1","k":"T","x":2.2,"y":33.9},{"g":"F1","k":"T","x":2.4,"y":38.5},{"g":"F1","k":"T","x":2.6,"y":40.5},{"g":"F1","k":"T","x":2.8,"y":39.5},{"g":"F1","k":"T","x":2.95,"y":36.8},{"g":"F1","k":"T","x":3.2,"y":30.5},{"g":"F1","k":"T","x":3.49,"y":23.7},{"g":"F1","k":"T","x":3.8,"y":20},{"g":"F1","k":"T","x":4.13,"y":16.4},{"g":"F1","k":"T","x":4.45,"y":14.2},{"g":"F1","k":"T","x":4.77,"y":12.1},{"g":"F1","k":"T","x":5.3,"y":9},{"g":"F1","k":"T","x":5.85,"y":5.5},{"g":"F1","k":"T","x":6.3,"y":4},{"g":"F1","k":"T","x":6.71,"y":1.9},
{"g":"F1","k":"C","x":0.5,"y":0},{"g":"F1","k":"C","x":1.02,"y":1.2},{"g":"F1","k":"C","x":1.4,"y":3},{"g":"F1","k":"C","x":1.77,"y":6.3},{"g":"F1","k":"C","x":2.1,"y":12.5},{"g":"F1","k":"C","x":2.41,"y":19.4},{"g":"F1","k":"C","x":2.7,"y":25},{"g":"F1","k":"C","x":2.95,"y":31},{"g":"F1","k":"C","x":3.2,"y":36},{"g":"F1","k":"C","x":3.38,"y":38.3},{"g":"F1","k":"C","x":3.6,"y":39.4},{"g":"F1","k":"C","x":3.7,"y":36},{"g":"F1","k":"C","x":3.81,"y":31},{"g":"F1","k":"C","x":3.95,"y":25.5},{"g":"F1","k":"C","x":4.13,"y":19.4},{"g":"F1","k":"C","x":4.35,"y":14.5},{"g":"F1","k":"C","x":4.56,"y":10.6},{"g":"F1","k":"C","x":5,"y":6},{"g":"F1","k":"C","x":5.42,"y":3.3},{"g":"F1","k":"C","x":6.5,"y":1.5},{"g":"F1","k":"C","x":7.67,"y":0.7},

{"g":"F2","k":"B","x":0,"y":0},{"g":"F2","k":"B","x":0.5,"y":1.5},{"g":"F2","k":"B","x":0.9,"y":4},{"g":"F2","k":"B","x":1.2,"y":7.5},{"g":"F2","k":"B","x":1.5,"y":12},{"g":"F2","k":"B","x":1.75,"y":17},{"g":"F2","k":"B","x":1.95,"y":21},{"g":"F2","k":"B","x":2.2,"y":22},{"g":"F2","k":"B","x":2.5,"y":23},{"g":"F2","k":"B","x":2.8,"y":25},{"g":"F2","k":"B","x":3.1,"y":27.5},{"g":"F2","k":"B","x":3.35,"y":29.5},{"g":"F2","k":"B","x":3.55,"y":31},{"g":"F2","k":"B","x":3.7,"y":29},{"g":"F2","k":"B","x":3.83,"y":26.6},{"g":"F2","k":"B","x":4.05,"y":22},{"g":"F2","k":"B","x":4.26,"y":17.9},{"g":"F2","k":"B","x":4.5,"y":17},{"g":"F2","k":"B","x":4.7,"y":16},{"g":"F2","k":"B","x":4.75,"y":15},{"g":"F2","k":"B","x":4.82,"y":8},{"g":"F2","k":"B","x":4.9,"y":6},{"g":"F2","k":"B","x":5.2,"y":5},{"g":"F2","k":"B","x":5.54,"y":3.3},{"g":"F2","k":"B","x":6.1,"y":2},{"g":"F2","k":"B","x":6.61,"y":1.2},{"g":"F2","k":"B","x":7.5,"y":0.7},{"g":"F2","k":"B","x":8.6,"y":0.4},
{"g":"F2","k":"L","x":0,"y":0},{"g":"F2","k":"L","x":0.5,"y":0.8},{"g":"F2","k":"L","x":0.93,"y":3.3},{"g":"F2","k":"L","x":1.2,"y":5.5},{"g":"F2","k":"L","x":1.47,"y":8.5},{"g":"F2","k":"L","x":1.75,"y":12.5},{"g":"F2","k":"L","x":2,"y":16},{"g":"F2","k":"L","x":2.25,"y":20},{"g":"F2","k":"L","x":2.5,"y":23.5},{"g":"F2","k":"L","x":2.8,"y":26},{"g":"F2","k":"L","x":3.1,"y":25.5},{"g":"F2","k":"L","x":3.3,"y":23},{"g":"F2","k":"L","x":3.5,"y":17.9},{"g":"F2","k":"L","x":3.6,"y":12},{"g":"F2","k":"L","x":3.72,"y":7.7},{"g":"F2","k":"L","x":4.15,"y":7.4},{"g":"F2","k":"L","x":4.5,"y":6},{"g":"F2","k":"L","x":4.79,"y":5.5},{"g":"F2","k":"L","x":5.1,"y":4},{"g":"F2","k":"L","x":5.43,"y":2.6},{"g":"F2","k":"L","x":6,"y":1.8},{"g":"F2","k":"L","x":6.61,"y":1.2},{"g":"F2","k":"L","x":8,"y":0.4},
{"g":"F2","k":"C","x":0,"y":0},{"g":"F2","k":"C","x":0.6,"y":0.5},{"g":"F2","k":"C","x":1.25,"y":1.9},{"g":"F2","k":"C","x":1.6,"y":4},{"g":"F2","k":"C","x":2,"y":6.3},{"g":"F2","k":"C","x":2.5,"y":8.5},{"g":"F2","k":"C","x":2.9,"y":10},{"g":"F2","k":"C","x":3.1,"y":9.5},{"g":"F2","k":"C","x":3.29,"y":7.7},{"g":"F2","k":"C","x":3.6,"y":5.5},{"g":"F2","k":"C","x":3.93,"y":3.6},{"g":"F2","k":"C","x":4.4,"y":3},{"g":"F2","k":"C","x":5,"y":2.6},{"g":"F2","k":"C","x":6,"y":2},{"g":"F2","k":"C","x":7.15,"y":1.5},{"g":"F2","k":"C","x":7.47,"y":1.2},
{"g":"F2","k":"T","x":0,"y":0},{"g":"F2","k":"T","x":0.72,"y":2.6},{"g":"F2","k":"T","x":1.2,"y":4.6},{"g":"F2","k":"T","x":1.5,"y":4.3},{"g":"F2","k":"T","x":1.79,"y":4.1},{"g":"F2","k":"T","x":2.1,"y":3.7},{"g":"F2","k":"T","x":2.33,"y":3.1},{"g":"F2","k":"T","x":2.65,"y":1.6},{"g":"F2","k":"T","x":3,"y":1.5},{"g":"F2","k":"T","x":3.29,"y":1.6},{"g":"F2","k":"T","x":3.61,"y":0.4},{"g":"F2","k":"T","x":4.5,"y":0.2},{"g":"F2","k":"T","x":6.08,"y":0},
{"g":"F2","k":"R","x":0,"y":0.3},{"g":"F2","k":"R","x":0.61,"y":1.6},{"g":"F2","k":"R","x":1.04,"y":1.9},{"g":"F2","k":"R","x":1.3,"y":1.2},{"g":"F2","k":"R","x":1.58,"y":0.7},{"g":"F2","k":"R","x":2.2,"y":0.3},{"g":"F2","k":"R","x":2.86,"y":0.1},
{"g":"F2","k":"P","x":0,"y":0.5},{"g":"F2","k":"P","x":1,"y":0.5},{"g":"F2","k":"P","x":2.5,"y":0.4},{"g":"F2","k":"P","x":5,"y":0.3},{"g":"F2","k":"P","x":6.7,"y":0.2},
{"g":"F2","k":"Y","x":0,"y":0.2},{"g":"F2","k":"Y","x":1.58,"y":0.4},{"g":"F2","k":"Y","x":2.9,"y":0.4},{"g":"F2","k":"Y","x":3.5,"y":0.1}
]},
"concat":[
{"title":{"text":["Stress-Strain","\u2014\u2014\u2014\u2014\u2014\u2014"],"lineHeight":10,"fontSize":20,"fontWeight":"bold","anchor":"middle","frame":"bounds","offset":23,"dx":11.5},
"spacing":73.4,
"hconcat":[
{"spacing":70.3,"hconcat":[
{"width":360,"height":170,"title":{"text":"Native tendon","dx":25,"offset":30,"frame":"group"},
"data":{"name":"d"},"transform":[{"filter":"datum.g=='SN'"}],
"mark":{"type":"line"},
"encoding":{
"x":{"field":"x","type":"quantitative","scale":{"domain":[-1,2],"nice":false,"zero":false},"axis":{"values":[-1,-0.5,0,0.5,1,1.5,2],"labelExpr":"replace(toString(datum.value),'.',',')","title":"Strain (%)","titleX":205,"labelPadding":3,"titlePadding":10}},
"y":{"field":"y","type":"quantitative","scale":{"domain":[0,45],"nice":false},"axis":{"values":[0,5,10,15,20,25,30,35,40,45],"title":"Stress (MPa)","offset":-120,"titleX":-124,"titleY":74,"titleBaseline":"middle","labelPadding":2}},
"color":{"field":"k","type":"nominal","scale":{"domain":["R","Y","M","C","T","B","P","L"],"range":["#9E1B1B","#FFF000","#9B3A6B","#2BC4F5","#2E8B7E","#22229A","#FF2D7A","#2B2BE0"]},"legend":null}}},
{"width":360,"height":170,"title":{"text":"Cond1 tendon","dx":-4,"offset":30,"frame":"group"},
"data":{"name":"d"},"transform":[{"filter":"datum.g=='S1'"}],
"mark":{"type":"line"},
"encoding":{
"x":{"field":"x","type":"quantitative","scale":{"domain":[-1,2],"nice":false,"zero":false},"axis":{"values":[-1,-0.5,0,0.5,1,1.5,2],"labelExpr":"replace(toString(datum.value),'.',',')","title":"Strain (%)","titleX":204,"labelPadding":3,"titlePadding":10}},
"y":{"field":"y","type":"quantitative","scale":{"domain":[0,45],"nice":false},"axis":{"values":[0,5,10,15,20,25,30,35,40,45],"title":"Stress (MPa)","offset":-120,"titleX":-116,"titleY":74,"titleBaseline":"middle","labelPadding":2}},
"color":{"field":"k","type":"nominal","scale":{"domain":["R","Y","M","C","T","B","P","L"],"range":["#9E1B1B","#FFF000","#9B3A6B","#2BC4F5","#2E8B7E","#22229A","#FF2D7A","#2B2BE0"]},"legend":null}}}
]},
{"width":361,"height":170,"title":{"text":"Cond2 tendon","dx":29.5,"offset":30,"frame":"group"},
"data":{"name":"d"},"transform":[{"filter":"datum.g=='S2'"}],
"mark":{"type":"line"},
"encoding":{
"x":{"field":"x","type":"quantitative","scale":{"domain":[-0.5,2],"nice":false,"zero":false},"axis":{"values":[-0.5,0,0.5,1,1.5,2],"labelExpr":"replace(toString(datum.value),'.',',')","title":"Strain (%)","titleX":205,"labelPadding":3,"titlePadding":10}},
"y":{"field":"y","type":"quantitative","scale":{"domain":[0,45],"nice":false},"axis":{"values":[0,5,10,15,20,25,30,35,40,45],"title":"Stress (MPa)","offset":-72.2,"titleX":-70,"titleY":79,"titleBaseline":"middle","labelPadding":2}},
"color":{"field":"k","type":"nominal","scale":{"domain":["R","Y","M","C","T","B","P","L"],"range":["#9E1B1B","#FFF000","#9B3A6B","#2BC4F5","#2E8B7E","#22229A","#FF2D7A","#2B2BE0"]},"legend":null}}}
]},
{"title":{"text":["Force-Displacement","\u2014\u2014\u2014\u2014\u2014\u2014\u2014\u2014\u2014\u2013"],"lineHeight":10,"fontSize":20,"fontWeight":"bold","anchor":"middle","frame":"bounds","offset":27,"dx":-2.6},
"spacing":85.8,
"hconcat":[
{"width":364,"height":159,"title":{"text":"Native tendon","dx":23,"offset":24.5,"frame":"group"},
"layer":[
{"data":{"values":[{}]},"mark":{"type":"rule","color":"#000","strokeWidth":1},
"encoding":{
"x":{"datum":0,"type":"quantitative","scale":{"domain":[-2,12],"nice":false,"zero":false},"axis":{"values":[0,2,4,6,8,10,12],"domain":false,"title":"Displacement (mm)","titleX":208,"labelPadding":4,"titlePadding":13}},
"x2":{"datum":12},
"y":{"datum":0,"type":"quantitative","scale":{"domain":[0,70],"nice":false},"axis":{"values":[0,10,20,30,40,50,60,70],"title":"Force (N)","offset":-52,"titleX":-48.5,"titleY":110,"titleBaseline":"middle","labelPadding":4}}}},
{"data":{"name":"d"},"transform":[{"filter":"datum.g=='FN'"}],
"mark":{"type":"line"},
"encoding":{
"x":{"field":"x","type":"quantitative","scale":{"domain":[-2,12],"nice":false,"zero":false},"axis":{"values":[0,2,4,6,8,10,12],"domain":false,"title":"Displacement (mm)","titleX":208,"labelPadding":4,"titlePadding":13}},
"y":{"field":"y","type":"quantitative","scale":{"domain":[0,70],"nice":false},"axis":{"values":[0,10,20,30,40,50,60,70],"title":"Force (N)","offset":-52,"titleX":-48.5,"titleY":110,"titleBaseline":"middle","labelPadding":4}},
"color":{"field":"k","type":"nominal","scale":{"domain":["R","Y","M","C","T","B","P","L"],"range":["#9E1B1B","#FFF000","#9B3A6B","#2BC4F5","#2E8B7E","#22229A","#FF2D7A","#2B2BE0"]},"legend":null}}}
]},
{"spacing":70.6,"hconcat":[
{"width":310,"height":159,"title":{"text":"Cond1 tendon","dx":-54,"offset":24.5,"frame":"group"},
"data":{"name":"d"},"transform":[{"filter":"datum.g=='F1'"}],
"mark":{"type":"line"},
"encoding":{
"x":{"field":"x","type":"quantitative","scale":{"domain":[0,10],"nice":false},"axis":{"values":[0,2,4,6,8,10],"title":"Displacement (mm)","labelPadding":4,"titlePadding":13}},
"y":{"field":"y","type":"quantitative","scale":{"domain":[0,70],"nice":false},"axis":{"values":[0,10,20,30,40,50,60,70],"title":"Force (N)","titleX":-48.5,"titleY":110,"titleBaseline":"middle","labelPadding":4}},
"color":{"field":"k","type":"nominal","scale":{"domain":["R","Y","M","C","T","B","P","L"],"range":["#9E1B1B","#FFF000","#9B3A6B","#2BC4F5","#2E8B7E","#22229A","#FF2D7A","#2B2BE0"]},"legend":null}}},
{"width":311,"height":159,"title":{"text":"Cond2 tendon","dx":-4.5,"offset":24.5,"frame":"group"},
"data":{"name":"d"},"transform":[{"filter":"datum.g=='F2'"}],
"mark":{"type":"line"},
"encoding":{
"x":{"field":"x","type":"quantitative","scale":{"domain":[0,10],"nice":false},"axis":{"values":[0,2,4,6,8,10],"title":"Displacement (mm)","labelPadding":4,"titlePadding":13}},
"y":{"field":"y","type":"quantitative","scale":{"domain":[0,70],"nice":false},"axis":{"values":[0,10,20,30,40,50,60,70],"title":"Force (N)","titleX":-48.7,"titleY":109,"titleBaseline":"middle","labelPadding":4}},
"color":{"field":"k","type":"nominal","scale":{"domain":["R","Y","M","C","T","B","P","L"],"range":["#9E1B1B","#FFF000","#9B3A6B","#2BC4F5","#2E8B7E","#22229A","#FF2D7A","#2B2BE0"]},"legend":null}}}
]}
]}
]
}
